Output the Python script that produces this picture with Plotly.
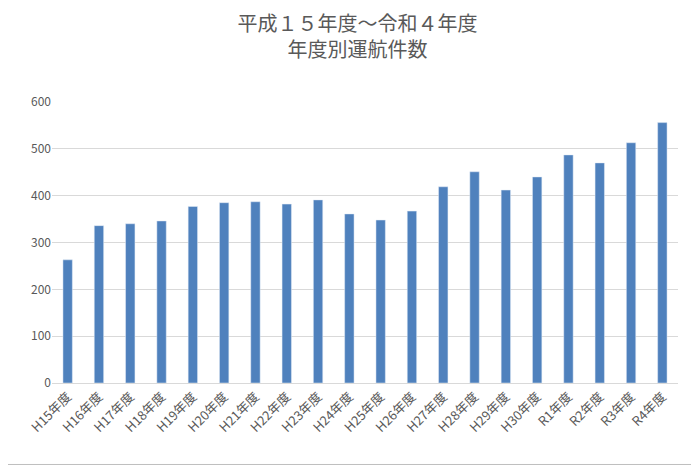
import plotly.graph_objects as go

categories = ["H15年度","H16年度","H17年度","H18年度","H19年度","H20年度","H21年度","H22年度","H23年度","H24年度",
              "H25年度","H26年度","H27年度","H28年度","H29年度","H30年度","R1年度","R2年度","R3年度","R4年度"]
values = [263,336,340,346,377,385,387,382,391,361,348,367,419,451,412,440,487,470,513,556]

fig = go.Figure(go.Bar(x=categories, y=values, marker_color="#4f81bd", width=0.3))
fig.update_layout(
    width=699, height=468,
    paper_bgcolor="white", plot_bgcolor="white",
    margin=dict(l=44, r=29, t=94, b=93),
    title=dict(text="平成１５年度～令和４年度<br>年度別運航件数", x=0.5, xanchor="center", y=0.95, yanchor="top",
               font=dict(size=20, color="#595959", family="Noto Sans CJK JP")),
    font=dict(family="Noto Sans CJK JP", color="#595959", size=12),
    xaxis=dict(tickangle=-45, showline=True, linecolor="#d9d9d9", ticks="", tickfont=dict(size=13)),
    yaxis=dict(range=[0,600], dtick=100, gridcolor="#d9d9d9", zeroline=False, ticks="", tickfont=dict(size=12)),
    showlegend=False,
    shapes=[dict(type="rect", xref="paper", yref="paper", x0=-0.076, x1=1.028, y0=-0.29, y1=1.35,
                 line=dict(color="#bfbfbf", width=1))],
)
fig.write_html("out.html")
